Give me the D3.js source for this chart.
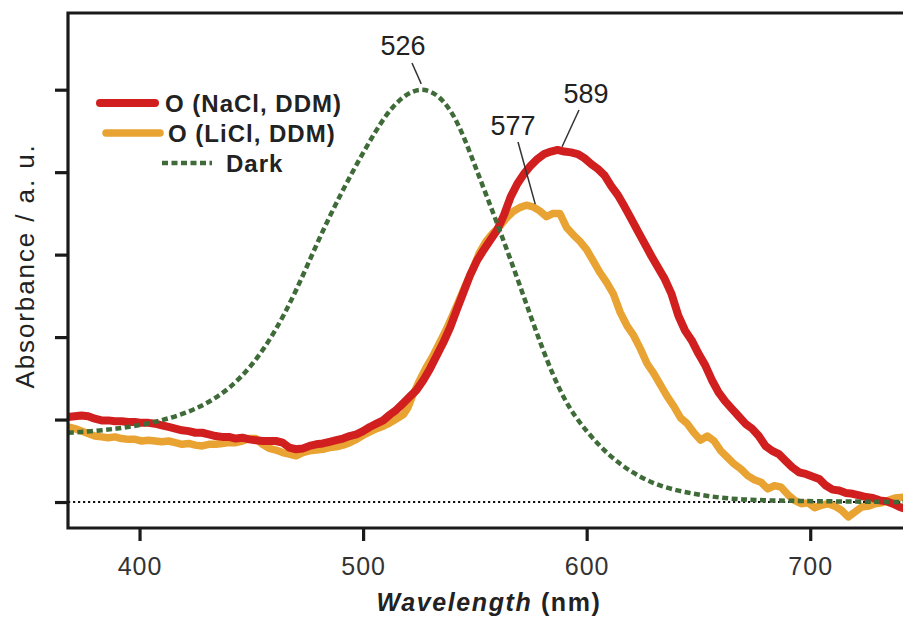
<!DOCTYPE html>
<html>
<head>
<meta charset="utf-8">
<style>
  body { margin: 0; background: #fff; }
  text { font-family: "Liberation Sans", Arial, sans-serif; }
</style>
</head>
<body>
<svg id="chart" width="903" height="620"></svg>
<script src="https://d3js.org/d3.v7.min.js"></script>
<script>
// wavelength (nm) / absorbance (a.u., tick units)
const naclNm = [368,371,374,377,380,383,386,389,392,395,398,401,404,407,410,413,416,419,422,425,428,431,434,437,440,443,446,449,452,455,458,461,464,467,470,473,476,479,482,485,488,491,494,497,500,503,506,509,512,515,518,521,524,527,530,533,536,539,542,545,548,551,554,557,560,563,566,569,572,575,578,581,584,587,590,593,596,599,602,605,608,611,614,617,620,623,626,629,632,635,638,641,644,647,650,653,656,659,662,665,668,671,674,677,680,683,686,689,692,695,698,701,704,707,710,713,716,719,722,725,728,731,734,737,740,742];
const naclAbs = [1.03,1.04,1.05,1.04,1.01,0.99,0.99,0.98,0.98,0.97,0.97,0.96,0.96,0.95,0.93,0.91,0.89,0.87,0.86,0.84,0.84,0.82,0.80,0.79,0.79,0.77,0.78,0.76,0.75,0.74,0.74,0.74,0.72,0.66,0.64,0.65,0.68,0.70,0.71,0.73,0.75,0.77,0.80,0.82,0.86,0.91,0.95,0.99,1.06,1.12,1.20,1.28,1.36,1.48,1.62,1.78,1.94,2.12,2.34,2.55,2.76,2.93,3.06,3.18,3.30,3.48,3.70,3.86,3.98,4.08,4.16,4.22,4.25,4.27,4.25,4.24,4.22,4.17,4.10,4.04,3.96,3.83,3.72,3.58,3.43,3.28,3.13,2.98,2.84,2.70,2.52,2.26,2.08,1.96,1.80,1.66,1.48,1.33,1.22,1.13,1.04,0.95,0.89,0.80,0.68,0.62,0.58,0.50,0.42,0.36,0.34,0.31,0.28,0.20,0.15,0.14,0.11,0.10,0.08,0.06,0.05,0.02,0.01,-0.02,-0.06,-0.08];

const liclNm = [368,371,374,377,380,383,386,389,392,395,398,401,404,407,410,413,416,419,422,425,428,431,434,437,440,443,446,449,452,455,458,461,464,467,470,473,476,479,482,485,488,491,494,497,500,503,506,509,512,515,518,520,522,525,528,531,534,537,540,543,546,549,552,555,558,561,564,567,570,573,576,579,582,585,588,591,594,597,600,603,606,609,612,615,618,621,624,627,630,633,636,639,642,645,648,651,654,657,660,663,666,669,672,675,678,681,684,687,690,693,696,699,702,705,708,711,714,717,720,723,726,729,732,735,738,742];
const liclAbs = [0.91,0.89,0.86,0.83,0.80,0.79,0.78,0.79,0.77,0.76,0.76,0.74,0.75,0.74,0.73,0.74,0.72,0.70,0.71,0.69,0.68,0.70,0.70,0.71,0.72,0.72,0.74,0.77,0.77,0.70,0.65,0.63,0.60,0.58,0.56,0.60,0.62,0.63,0.64,0.66,0.67,0.69,0.72,0.76,0.81,0.85,0.89,0.92,0.96,1.01,1.06,1.14,1.28,1.46,1.62,1.76,1.92,2.08,2.26,2.45,2.64,2.82,3.02,3.16,3.26,3.34,3.44,3.52,3.57,3.60,3.58,3.53,3.46,3.50,3.50,3.33,3.24,3.16,3.06,2.92,2.78,2.66,2.52,2.30,2.14,2.02,1.86,1.68,1.56,1.42,1.28,1.16,1.02,0.95,0.84,0.75,0.80,0.74,0.62,0.54,0.46,0.40,0.32,0.27,0.24,0.16,0.20,0.18,0.09,0.02,-0.02,-0.01,-0.07,-0.04,-0.02,-0.05,-0.10,-0.18,-0.12,-0.06,-0.05,-0.02,-0.01,0.02,0.05,0.06];

const darkNm = [368,380,390,400,410,420,430,440,450,460,470,480,490,500,510,518,526,534,542,550,560,570,580,590,600,610,620,630,640,650,660,670,680,700,742];
const darkAbs = [0.84,0.86,0.89,0.93,0.99,1.07,1.19,1.37,1.64,2.03,2.55,3.18,3.74,4.24,4.70,4.93,5.03,4.94,4.65,4.08,3.38,2.64,1.86,1.21,0.85,0.56,0.36,0.22,0.14,0.09,0.05,0.03,0.02,0.01,0.0];

const xTicks = [400, 500, 600, 700];
const yTicks = [0, 1, 2, 3, 4, 5];
const seriesNames = ["O (NaCl, DDM)", "O (LiCl, DDM)", "Dark"];
const peakNm = [526, 589, 577];
const peakAbs = [5.01, 4.26, 3.60];
const peakLabels = ["526", "589", "577"];

const colors = { nacl: "#d11f1f", licl: "#e8a332", dark: "#3e6b38" };

const svg = d3.select("#chart");
const mLeft = 68, mRight = 903, mTop = 13, mBottom = 528;

const x = d3.scaleLinear().domain([368, 741.5]).range([mLeft, mRight]);
const y = d3.scaleLinear().domain([-0.315, 5.93]).range([mBottom, mTop]);

const plot = svg.append("g");

// zero baseline
plot.append("line")
  .attr("x1", mLeft).attr("x2", mRight)
  .attr("y1", y(0)).attr("y2", y(0))
  .attr("stroke", "#111").attr("stroke-width", 2.2)
  .attr("stroke-dasharray", "2.2,2.8");

const line = d3.line().x(d => x(d[0])).y(d => y(d[1]));
const smooth = d3.line().curve(d3.curveBasis).x(d => x(d[0])).y(d => y(d[1]));

plot.append("path")
  .datum(d3.zip(liclNm, liclAbs))
  .attr("fill", "none").attr("stroke", colors.licl)
  .attr("stroke-width", 7.5).attr("stroke-linejoin", "round")
  .attr("d", line);

plot.append("path")
  .datum(d3.zip(naclNm, naclAbs))
  .attr("fill", "none").attr("stroke", colors.nacl)
  .attr("stroke-width", 8).attr("stroke-linejoin", "round")
  .attr("d", line);

plot.append("path")
  .datum(d3.zip(darkNm, darkAbs))
  .attr("fill", "none").attr("stroke", colors.dark)
  .attr("stroke-width", 4.5).attr("stroke-dasharray", "6,3.5")
  .attr("d", smooth);

// frame
svg.append("path")
  .attr("d", `M${mRight},${mTop}H${mLeft}V${mBottom}H${mRight}`)
  .attr("fill", "none").attr("stroke", "#1a1a1a").attr("stroke-width", 3.2);

// axes
const xAxis = svg.append("g")
  .attr("transform", `translate(0,${mBottom})`)
  .call(d3.axisBottom(x).tickValues(xTicks).tickSize(13).tickPadding(16));
xAxis.select(".domain").remove();
xAxis.selectAll("line").attr("stroke", "#1a1a1a").attr("stroke-width", 3.2);
xAxis.selectAll("text").attr("font-size", 25).attr("fill", "#333")
  .attr("letter-spacing", 1).attr("font-family", "Liberation Sans, Arial, sans-serif");

const yAxis = svg.append("g")
  .attr("transform", `translate(${mLeft},0)`)
  .call(d3.axisLeft(y).tickValues(yTicks).tickSize(13).tickFormat(""));
yAxis.select(".domain").remove();
yAxis.selectAll("line").attr("stroke", "#1a1a1a").attr("stroke-width", 3.2);

// axis titles
svg.append("text")
  .attr("transform", "translate(34,266) rotate(-90)")
  .attr("text-anchor", "middle")
  .attr("font-size", 26).attr("fill", "#222")
  .attr("letter-spacing", 1.9)
  .text("Absorbance / a. u.");

const xt = svg.append("text")
  .attr("x", 489).attr("y", 611)
  .attr("text-anchor", "middle")
  .attr("font-size", 25).attr("font-weight", "bold").attr("fill", "#222")
  .attr("letter-spacing", 1.6);
xt.append("tspan").attr("font-style", "italic").text("Wavelength");
xt.append("tspan").text(" (nm)");

// legend
const legendRows = [
  { x1: 100, x2: 155, y: 103, tx: 165, color: colors.nacl, w: 8, dash: null },
  { x1: 106, x2: 160, y: 133, tx: 168, color: colors.licl, w: 7.5, dash: null },
  { x1: 162, x2: 212, y: 163, tx: 226, color: colors.dark, w: 4.5, dash: "6,3.5" }
];
const legend = svg.append("g");
legendRows.forEach((r, i) => {
  legend.append("line")
    .attr("x1", r.x1).attr("x2", r.x2).attr("y1", r.y).attr("y2", r.y)
    .attr("stroke", r.color).attr("stroke-width", r.w)
    .attr("stroke-linecap", r.dash ? "butt" : "round")
    .attr("stroke-dasharray", r.dash);
  legend.append("text")
    .attr("x", r.tx).attr("y", r.y + 9)
    .attr("font-size", 24).attr("font-weight", "bold").attr("fill", "#222")
    .attr("letter-spacing", 1)
    .text(seriesNames[i]);
});

// peak annotations
const annot = [
  { tx: 403, ty: 55, lx: 412, ly: 63, gap: 5 },
  { tx: 586, ty: 103, lx: 579, ly: 110, gap: 4 },
  { tx: 513, ty: 135, lx: 518, ly: 142, gap: 1 }
];
annot.forEach((a, i) => {
  svg.append("line")
    .attr("x1", a.lx).attr("y1", a.ly)
    .attr("x2", x(peakNm[i])).attr("y2", y(peakAbs[i]) - a.gap)
    .attr("stroke", "#333").attr("stroke-width", 1.5);
  svg.append("text")
    .attr("x", a.tx).attr("y", a.ty)
    .attr("text-anchor", "middle")
    .attr("font-size", 27).attr("fill", "#222")
    .text(peakLabels[i]);
});
</script>
</body>
</html>
